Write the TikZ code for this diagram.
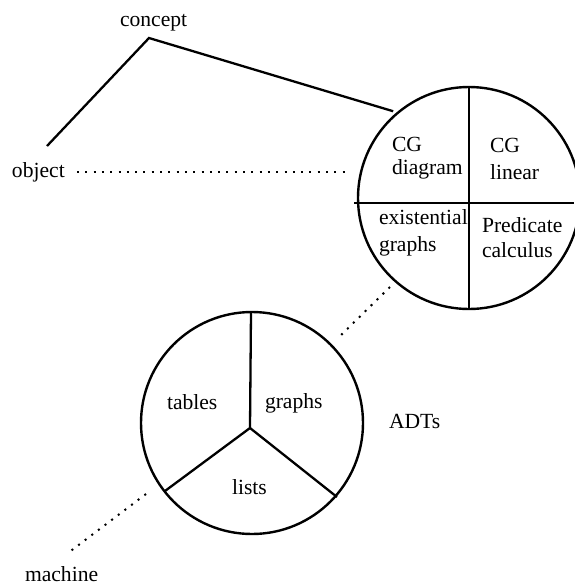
\documentclass[tikz,border=0pt]{standalone}
\usepackage{fontspec}
\setmainfont{Liberation Serif}
\usetikzlibrary{calc}
\begin{document}
\begin{tikzpicture}[x=1pt,y=-1pt,
  every node/.style={inner sep=0pt, outer sep=0pt},
  lbl/.style={anchor=base west, font=\fontsize{21.6}{24}\selectfont},
  solidline/.style={line width=2.3pt},
  dotline/.style={line width=2pt, dash pattern=on 2pt off 6.3pt},
  ring/.style={circle, draw, line width=2.4pt, minimum size=222pt}]
\useasboundingbox (0,0) rectangle (574,587);

% the two partitioned circles
\node[ring] (cg) at (469,198) {};
\node[ring] (adt) at (252,423) {};

% quadrants of the notation circle
\draw[solidline] (469,87) -- (469,309);
\draw[solidline] (354,203) -- (574,203);

% three sectors of the data-type circle
\coordinate (hub) at (250,428);
\draw[solidline] (hub) -- (251,312);
\draw[solidline] (hub) -- (165,491);
\draw[solidline] (hub) -- (337,497);

% outer labels
\node[lbl] (concept) at (120,26) {concept};
\node[lbl] (object) at (12,177) {object};
\node[lbl] (machine) at (25,581) {machine};
\node[lbl] (adts) at (389,428) {ADTs};

% labels inside the notation circle
\node[lbl] (cgd1) at (392,151) {CG};
\node[lbl] (cgd2) at (392,174.5) {diagram};
\node[lbl] (cgl1) at (490,152.5) {CG};
\node[lbl] (cgl2) at (490,179.5) {linear};
\node[lbl] (eg1) at (379,224.5) {existential};
\node[lbl] (eg2) at (379,251) {graphs};
\node[lbl] (pc1) at (482,232) {Predicate};
\node[lbl] (pc2) at (482,257) {calculus};

% labels inside the data-type circle
\node[lbl] (tables) at (167,409.5) {tables};
\node[lbl] (graphs) at (265,408) {graphs};
\node[lbl] (lists) at (232,494.5) {lists};

% connector end points
\coordinate (apex) at (149,38);
\coordinate (objtip) at (47,146);
\coordinate (objdotA) at (77,172);
\coordinate (objdotB) at (348,172);
\coordinate (machA) at (146,494);
\coordinate (machB) at (68,553);
\coordinate (linkA) at (390,287);
\coordinate (linkB) at (337,339);

% solid links
\draw[solidline] (objtip) -- (apex) -- ([shift={(-3,-3)}]cg.131);

% dotted links
\draw[dotline] (objdotA) -- (objdotB);
\draw[dotline] (linkA) -- (linkB);
\draw[dotline] (machA) -- (machB);
\end{tikzpicture}
\end{document}
